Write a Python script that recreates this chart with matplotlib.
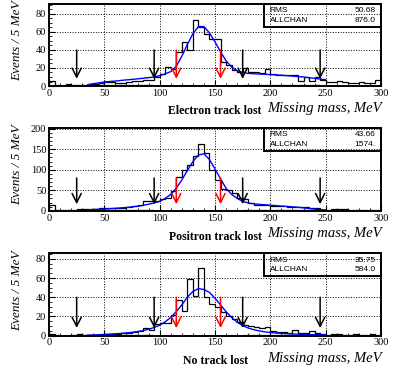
import numpy as np
import matplotlib
matplotlib.use("Agg")
import matplotlib.pyplot as plt
from matplotlib.ticker import MultipleLocator

# bin edges (5 MeV bins) and x points of the fitted curve
edges = np.arange(0, 305, 5)
fit_x = np.arange(35, 255, 5)

electron_counts = [6, 1, 0, 2, 1, 0, 0, 2, 2, 3,
                   5, 4, 3, 3, 5, 6, 6, 7, 7, 10,
                   13, 21, 19, 38, 49, 40, 73, 65, 58, 52,
                   52, 27, 23, 18, 16, 20, 16, 15, 14, 19,
                   13, 12, 12, 12, 12, 6, 10, 6, 10, 7,
                   5, 5, 6, 5, 3, 3, 5, 3, 3, 7]
positron_counts = [15, 2, 1, 2, 3, 4, 4, 4, 5, 6,
                   6, 7, 6, 7, 8, 12, 15, 23, 24, 25,
                   28, 30, 48, 82, 100, 112, 134, 162, 140, 99,
                   76, 52, 50, 44, 30, 28, 18, 15, 14, 14,
                   12, 12, 11, 10, 10, 8, 9, 7, 6, 3,
                   2, 4, 4, 4, 3, 2, 2, 3, 2, 3]
notrack_counts = [2, 1, 0, 0, 1, 2, 1, 1, 1, 1,
                  2, 2, 2, 3, 3, 4, 5, 8, 6, 12,
                  13, 13, 22, 37, 26, 59, 41, 70, 40, 33,
                  30, 25, 21, 17, 14, 11, 10, 9, 8, 9,
                  5, 4, 4, 3, 6, 3, 3, 5, 3, 2,
                  1, 2, 2, 1, 1, 2, 1, 1, 2, 1]

electron_fit = [1.5, 2.5, 3.5, 4.5, 5, 5.5, 6.2, 6.8, 7.3, 8, 8.6, 9.3, 10, 11.5,
                13.5, 16, 22, 33, 46, 58, 66, 66, 59, 49, 38, 28, 21, 17,
                15, 14, 13.6, 13.3, 13, 12.7, 12.3, 12, 11.5, 11, 10.5, 10, 9.2, 8.5,
                7.7, 7]
positron_fit = [2, 3, 3.5, 4, 5, 6, 7, 8, 9.5, 11, 13, 16, 19, 23,
                30, 40, 55, 75, 98, 120, 136, 139, 125, 102, 78, 55, 40, 30,
                23, 19, 17, 15.5, 14.5, 13.5, 12.5, 11.5, 10.5, 9.5, 8.5, 7, 5.5, 4,
                3, 2]
notrack_fit = [0.5, 0.7, 1, 1.3, 1.6, 2, 2.4, 2.9, 3.5, 4.3, 5.3, 6.7, 8.5, 11,
               14.5, 19, 25, 32, 40, 46, 49, 48, 45, 39, 32, 25, 19, 14,
               10.5, 8, 6.3, 5, 4, 3.3, 2.8, 2.4, 2, 1.8, 1.6, 1.4, 1.2, 1.1,
               1, 0.9]

titles = ["Electron track lost", "Positron track lost", "No track lost"]
rms_values = ["50.68", "43.66", "35.75"]
allchan_values = ["876.0", "1574.", "584.0"]
black_arrows_x = [25, 95, 175, 245]
red_arrows_x = [115, 155]

all_counts = [electron_counts, positron_counts, notrack_counts]
all_fits = [electron_fit, positron_fit, notrack_fit]
y_max = [91, 203, 86]
y_major = [20, 50, 20]
y_minor = [5, 10, 5]
arrow_top = [40, 80, 40]
arrow_tip = [8, 16, 8]

# axes boxes in figure fractions [left, bottom, width, height]
boxes = [[0.1244, 0.7694, 0.8426, 0.2198],
         [0.1244, 0.4350, 0.8426, 0.2230],
         [0.1244, 0.1000, 0.8426, 0.2217]]

serif = "Liberation Serif"
sans = "Liberation Sans"

fig = plt.figure(figsize=(3.94, 3.73), dpi=100)

for i in range(3):
    ax = fig.add_axes(boxes[i])
    ax.stairs(all_counts[i], edges, color="black", lw=0.9)
    ax.plot(fit_x, all_fits[i], color="blue", lw=1.0)

    # sideband / signal region marks on the axis
    ax.plot([25, 95], [0, 0], color="black", lw=1.6, solid_capstyle="butt")
    ax.plot([175, 245], [0, 0], color="black", lw=1.6, solid_capstyle="butt")
    ax.plot([115, 155], [0, 0], color="red", lw=2.0, solid_capstyle="butt")

    for xa in black_arrows_x:
        ax.annotate("", xy=(xa, arrow_tip[i]), xytext=(xa, arrow_top[i]),
                    arrowprops=dict(arrowstyle="->,head_length=0.65,head_width=0.33",
                                    color="black", lw=1.1, shrinkA=0, shrinkB=0))
    for xa in red_arrows_x:
        ax.annotate("", xy=(xa, arrow_tip[i]), xytext=(xa, arrow_top[i]),
                    arrowprops=dict(arrowstyle="->,head_length=0.65,head_width=0.33",
                                    color="red", lw=1.1, shrinkA=0, shrinkB=0))

    ax.set_xlim(0, 300)
    ax.set_ylim(0, y_max[i])
    ax.xaxis.set_major_locator(MultipleLocator(50))
    ax.xaxis.set_minor_locator(MultipleLocator(10))
    ax.yaxis.set_major_locator(MultipleLocator(y_major[i]))
    ax.yaxis.set_minor_locator(MultipleLocator(y_minor[i]))
    ax.tick_params(which="both", direction="in", top=False, right=False)
    ax.tick_params(which="major", length=4, width=0.8, pad=2)
    ax.tick_params(which="minor", length=2, width=0.6)
    for lab in ax.get_xticklabels() + ax.get_yticklabels():
        lab.set_fontfamily(serif)
        lab.set_fontsize(7.5)
    ax.grid(True, which="major", color="black", linestyle=":", lw=0.7)
    for sp in ax.spines.values():
        sp.set_linewidth(1.4)

    ax.set_ylabel("Events / 5 MeV", family=serif, style="italic", fontsize=9.5, labelpad=2)
    ax.yaxis.set_label_coords(-0.078, 0.55)

    # stat box
    ax.add_patch(plt.Rectangle((0.648, 0.72), 0.352, 0.28, transform=ax.transAxes,
                               fill=False, edgecolor="black", lw=1.4, clip_on=False))
    ax.text(0.665, 0.915, "RMS", transform=ax.transAxes, family=sans, fontsize=6,
            va="center", ha="left")
    ax.text(0.983, 0.915, rms_values[i], transform=ax.transAxes, family=sans, fontsize=6,
            va="center", ha="right")
    ax.text(0.665, 0.80, "ALLCHAN", transform=ax.transAxes, family=sans, fontsize=6,
            va="center", ha="left")
    ax.text(0.983, 0.80, allchan_values[i], transform=ax.transAxes, family=sans, fontsize=6,
            va="center", ha="right")

    ax.text(1.003, -0.27, "Missing mass, MeV", transform=ax.transAxes, family=serif,
            style="italic", fontsize=10.5, ha="right", va="center")
    ax.text(0.5, -0.31, titles[i], transform=ax.transAxes, family=serif,
            weight="bold", fontsize=8.5, ha="center", va="center")

fig.savefig("out.png", dpi=100)
